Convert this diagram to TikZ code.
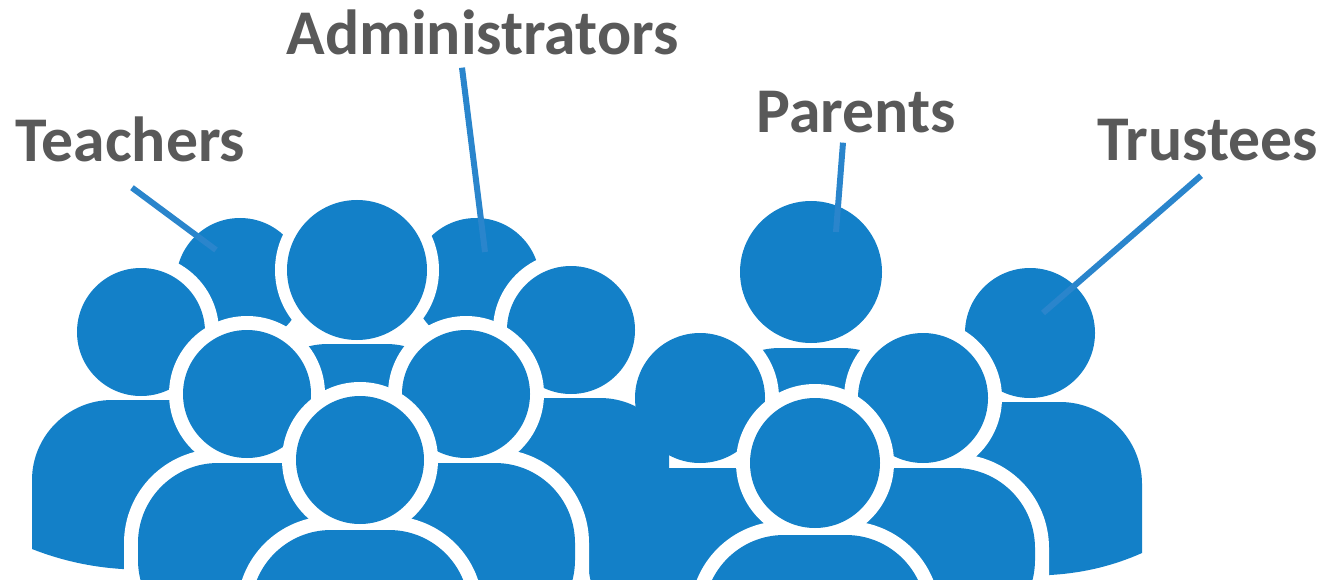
\documentclass[tikz,border=0pt]{standalone}
\usepackage{fontspec}
\setmainfont{Carlito}
\tikzset{
  blueshape/.style = {fill = crowdblue},
  bodyshape/.style = {fill = crowdblue, rounded corners = 80pt},
  bodyring/.style = {draw = white, line width = 28pt, rounded corners = 80pt},
  whitering/.style = {fill = white},
  grouplabel/.style = {anchor = base, inner sep = 0pt, text = labelgrey, font = \fontsize{63.7}{66}\selectfont\bfseries},
  pointer/.style = {draw = pointerblue, line width = 6pt}
}
\begin{document}
\begin{tikzpicture}[x = 1pt, y = -1pt]
\definecolor{crowdblue}{HTML}{1380C8}
\definecolor{pointerblue}{HTML}{2A85CC}
\definecolor{labelgrey}{HTML}{595959}
\useasboundingbox (0, 0) rectangle (1322, 580);
\clip (0, 0) rectangle (1322, 580);
% right group
\fill[blueshape] (1030, 333) circle (65pt);
\fill[blueshape] (900, 620) -- (900, 402) -- (1060, 402) .. controls (1105, 402) and (1142, 439) .. (1142, 484) -- (1142, 553) .. controls (1115, 565) and (1085, 573) .. (1050, 575) -- cycle;
\fill[blueshape] (811, 272) circle (71pt);
\fill[bodyshape] (700, 620) -- (700, 348) -- (922, 348) -- (922, 620) -- cycle;
\fill[whitering] (700, 398) circle (79pt);
\fill[blueshape] (700, 398) circle (65pt);
\fill[bodyshape] (588, 640) -- (588, 468) -- (812, 468) -- (812, 640) -- cycle;
\draw[bodyring] (811, 640) -- (811, 468) -- (1035, 468) -- (1035, 640);
\fill[whitering] (923, 398) circle (79pt);
\fill[blueshape] (923, 398) circle (65pt);
\fill[bodyshape] (811, 640) -- (811, 468) -- (1035, 468) -- (1035, 640) -- cycle;
\draw[bodyring] (704, 680) -- (704, 535) -- (926, 535) -- (926, 680);
\fill[whitering] (815, 463) circle (79pt);
\fill[blueshape] (815, 463) circle (65pt);
\fill[bodyshape] (704, 680) -- (704, 535) -- (926, 535) -- (926, 680) -- cycle;
% left group
\fill[blueshape] (240, 282) circle (64pt);
\fill[blueshape] (476, 282) circle (64pt);
\fill[whitering] (357, 270) circle (82pt);
\fill[blueshape] (357, 270) circle (70pt);
\fill[bodyshape] (248, 620) -- (248, 344) -- (466, 344) -- (466, 620) -- cycle;
\fill[whitering] (141, 332) circle (78pt);
\fill[blueshape] (141, 332) circle (64pt);
\fill[blueshape] (250, 569) -- (250, 400) -- (112, 400) .. controls (68, 400) and (32, 436) .. (32, 480) -- (32, 549) .. controls (60, 560) and (90, 567) .. (122, 569) -- cycle;
\fill[whitering] (571, 330) circle (78pt);
\fill[blueshape] (571, 330) circle (64pt);
\begin{scope}
\clip (0, 0) rectangle (669, 580);
\fill[blueshape] (462, 569) -- (462, 398) -- (600, 398) .. controls (644, 398) and (680, 434) .. (680, 478) -- (680, 549) .. controls (652, 560) and (622, 567) .. (590, 569) -- cycle;
\end{scope}
\draw[bodyring] (138, 640) -- (138, 463) -- (356, 463) -- (356, 640);
\fill[whitering] (247, 394) circle (78pt);
\fill[blueshape] (247, 394) circle (64pt);
\fill[bodyshape] (138, 640) -- (138, 463) -- (356, 463) -- (356, 640) -- cycle;
\draw[bodyring] (357, 640) -- (357, 463) -- (575, 463) -- (575, 640);
\fill[whitering] (466, 394) circle (78pt);
\fill[blueshape] (466, 394) circle (64pt);
\fill[bodyshape] (357, 640) -- (357, 463) -- (575, 463) -- (575, 640) -- cycle;
\draw[bodyring] (251, 680) -- (251, 530) -- (469, 530) -- (469, 680);
\fill[whitering] (360, 460) circle (78pt);
\fill[blueshape] (360, 460) circle (64pt);
\fill[bodyshape] (251, 680) -- (251, 530) -- (469, 530) -- (469, 680) -- cycle;
% labels
\node[grouplabel] (teachers) at (130.5, 162) {Teachers};
\node[grouplabel] (administrators) at (482.5, 55) {Administrators};
\node[grouplabel] (parents) at (856, 133) {Parents};
\node[grouplabel] (trustees) at (1207.5, 161) {Trustees};
\coordinate (teacherhead) at (216, 250);
\coordinate (adminhead) at (485, 252);
\coordinate (parenthead) at (836, 232);
\coordinate (trusteehead) at (1043, 313);
\draw[pointer] ([xshift = 1.5pt, yshift = -25pt]teachers.south) -- (teacherhead);
\draw[pointer] ([xshift = -20.5pt, yshift = -12pt]administrators.south) -- (adminhead);
\draw[pointer] ([xshift = -13pt, yshift = -9pt]parents.south) -- (parenthead);
\draw[pointer] ([xshift = -6.5pt, yshift = -14pt]trustees.south) -- (trusteehead);
\end{tikzpicture}
\end{document}
